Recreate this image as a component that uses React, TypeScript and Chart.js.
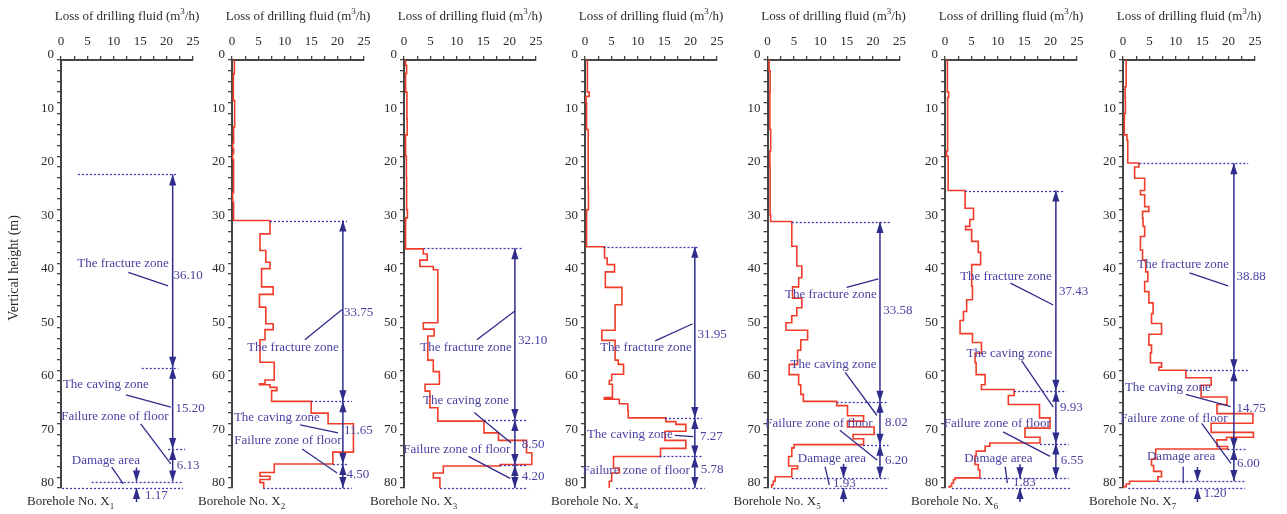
import React, { useEffect, useRef } from 'react';
import { Chart, registerables } from 'chart.js';

Chart.register(...registerables);

// ---------------- data ----------------
const LOSS_TICKS = [0, 5, 10, 15, 20, 25];
const DEPTH_TICKS = [0, 10, 20, 30, 40, 50, 60, 70, 80];
const LOSS_MAX = 25;
const DEPTH_MAX = 80;
const ZONE_NAMES = ['The fracture zone', 'The caving zone', 'Failure zone of floor', 'Damage area'];
const BOREHOLES = ['1', '2', '3', '4', '5', '6', '7'];

const X1_depth: number[] = [];
const X1_loss: number[] = [];

const X2_depth = [0, 2.6, 7.6, 12.5, 15.6, 16.5, 17.5, 18.6, 24.8, 26.6, 30.0, 32.5, 35.6, 37.8, 39.0, 42.4, 43.8, 46.2, 49.3, 50.4, 52.3, 56.5, 59.8, 60.5, 60.7, 61.2, 61.8, 63.8, 66.0, 68.0, 73.3, 75.5, 77.1, 77.8, 78.4, 79.0];
const X2_loss = [0.45, 0.25, 0.5, 0.3, 0.12, 0.3, 0.12, 0.3, 0.12, 0.3, 7.2, 5.3, 6.4, 7.2, 5.6, 7.8, 5.2, 6.4, 7.8, 6.25, 5.3, 8.0, 6.25, 5.2, 7.2, 8.5, 7.5, 15.0, 18.2, 23.0, 19.1, 8.0, 5.3, 7.2, 5.3, 6.0];

const X3_depth = [0, 1, 2.5, 6, 11, 14, 18, 22, 28, 29.5, 35.3, 36.25, 37.4, 38.6, 39.2, 49.1, 50.3, 51.6, 56.1, 58.25, 60.6, 61.9, 65.0, 67.5, 69.7, 71.1, 73.4, 75.6, 75.9, 77.2, 78.1];
const X3_loss = [0.3, 0.5, 0.3, 0.55, 0.6, 0.3, 0.45, 0.5, 0.65, 0.3, 3.66, 4.4, 3.0, 5.55, 6.4, 3.66, 5.7, 4.5, 5.55, 6.7, 4.0, 4.9, 6.4, 15.15, 17.9, 23.2, 24.2, 18.2, 7.45, 5.55, 6.8];

const X4_depth = [0, 6, 6.8, 8, 13, 24, 28, 34.9, 37, 38.25, 39.6, 42.5, 45.75, 50.5, 52.4, 56.1, 56.9, 58.75, 59.9, 60.6, 63.1, 63.4, 64.25, 65.5, 66.9, 67.6, 68.1, 69.4, 71.1, 72.6, 74.1, 76.25, 77.2, 78.75];
const X4_loss = [0.45, 0.8, 0.2, 0.3, 0.6, 0.65, 0.3, 3.7, 4.2, 5.6, 3.85, 7.0, 5.7, 3.2, 5.7, 6.3, 7.3, 5.05, 4.6, 5.2, 3.66, 6.5, 8.1, 8.2, 15.3, 17.2, 19.1, 15.15, 19.1, 14.3, 5.4, 6.5, 5.05, 4.6];

const X5_depth = [0, 2, 6, 13, 17, 20, 29, 30.2, 34.8, 38.5, 40.7, 42.4, 44.5, 46.3, 47.8, 49.1, 50.5, 52.3, 54.25, 56.9, 58.8, 60.7, 62.5, 63.8, 64.6, 66.5, 67.5, 68.6, 70.0, 70.8, 71.9, 72.5, 74.1, 75.9, 76.4, 77.9, 78.75, 79.4];
const X5_loss = [0.3, 0.5, 0.45, 0.6, 0.45, 0.5, 0.6, 4.6, 5.55, 6.5, 5.9, 4.75, 6.5, 5.55, 4.6, 3.5, 7.6, 6.3, 5.7, 4.1, 5.9, 6.3, 6.8, 13.1, 15.15, 18.2, 15.15, 20.2, 16.2, 18.2, 5.05, 4.6, 4.0, 5.7, 4.6, 1.45, 1.1, 0.8];

const X6_depth = [0, 6, 7, 17, 18, 24.4, 27.7, 29.8, 31.1, 31.7, 33.9, 35.95, 38.25, 42.3, 44.8, 47.0, 48.7, 51.15, 52.8, 54.8, 56.6, 58.8, 60.7, 61.6, 62.7, 64.4, 66.9, 68.8, 70.5, 71.6, 72.2, 73.1, 74.0, 75.6, 76.6, 78.1, 78.45, 79.1, 79.7];
const X6_loss = [0.45, 0.7, 0.5, 0.3, 0.6, 3.8, 5.4, 4.7, 3.9, 5.05, 6.3, 6.75, 5.05, 5.2, 4.1, 3.5, 2.85, 5.2, 6.9, 5.7, 5.9, 7.6, 6.9, 13.1, 12.0, 17.9, 19.9, 15.15, 18.0, 8.5, 7.6, 5.9, 5.7, 6.3, 6.6, 1.9, 1.6, 1.26, 0.8];

const X7_depth = [0, 5, 7, 10, 14, 15, 19.25, 20, 22.1, 24.4, 25.2, 27.4, 28.3, 29.6, 31.1, 33, 35.5, 37.4, 39.6, 41.4, 43.3, 45.4, 47.4, 49.25, 51.25, 53.3, 54.75, 56.6, 57.4, 58, 59.4, 60.8, 63, 64.4, 66.1, 67.9, 69.6, 70.5, 71, 72.25, 72.7, 74.6, 75.8, 76.9, 77.9, 78.75, 79.25, 79.75];
const X7_loss = [0.6, 0.4, 0.45, 0.25, 0.75, 0.9, 3.0, 2.2, 4.1, 3.3, 4.1, 4.9, 3.7, 3.8, 4.1, 3.3, 3.7, 4.3, 4.7, 4.1, 4.9, 5.7, 5.4, 7.3, 4.9, 5.4, 5.2, 7.3, 6.8, 11.9, 16.7, 14.8, 19.7, 17.8, 24.6, 16.7, 24.7, 19.6, 17.8, 19.8, 6.2, 5.4, 5.8, 7.3, 6.6, 1.26, 0.6, 0.1];

// zone boundaries (vertical height, m) and zone thickness labels
const X1_bounds = [21.4, 57.5, 72.7, 78.8, 80];
const X1_thick = ['36.10', '15.20', '6.13', '1.17'];
const X2_bounds = [30, 63.8, 75.5, 80];
const X2_thick = ['33.75', '11.65', '4.50'];
const X3_bounds = [35.2, 67.3, 75.7, 80];
const X3_thick = ['32.10', '8.50', '4.20'];
const X4_bounds = [34.9, 66.9, 74.1, 80];
const X4_thick = ['31.95', '7.27', '5.78'];
const X5_bounds = [30.3, 63.9, 71.9, 78.1, 80];
const X5_thick = ['33.58', '8.02', '6.20', '1.93'];
const X6_bounds = [24.4, 61.8, 71.7, 78.2, 80];
const X6_thick = ['37.43', '9.93', '6.55', '1.83'];
const X7_bounds = [19.3, 58.0, 72.7, 78.7, 80];
const X7_thick = ['38.88', '14.75', '6.00', '1.20'];

// ---------------- layout (in data units of each panel) ----------------
type Panel = {
  axisX: number;
  depth: number[];
  loss: number[];
  bounds: number[];
  thick: string[];
  arrowV: number;
  damageV?: number;
  dotted: number[][];
  names: number[][];
  leaders: (number[] | null)[];
  thickPos: number[][];
  yTitle?: boolean;
};

const PANELS: Panel[] = [
  {
    axisX: 61, depth: X1_depth, loss: X1_loss, bounds: X1_bounds, thick: X1_thick,
    arrowV: 21.15, damageV: 14.3, yTitle: true,
    dotted: [[3.2, 22.0], [15.3, 22.2], [20.3, 23.5], [5.8, 23.1], [0.2, 23.1]],
    names: [[11.75, 38.0], [8.5, 60.7], [10.2, 66.6], [8.5, 74.8]],
    leaders: [[12.75, 39.7, 20.3, 42.2], [12.3, 62.6, 20.8, 64.9], [15.1, 68.0, 20.8, 75.5], [9.6, 76.1, 11.8, 79.25]],
    thickPos: [[21.3, 40.3], [21.7, 65.2], [21.9, 75.8], [15.9, 81.4]],
  },
  {
    axisX: 232, depth: X2_depth, loss: X2_loss, bounds: X2_bounds, thick: X2_thick,
    arrowV: 21.0,
    dotted: [[7.2, 21.8], [15.0, 22.7], [19.1, 21.8], [5.9, 22.7]],
    names: [[11.55, 53.8], [8.5, 66.9], [10.6, 71.2]],
    leaders: [[20.8, 46.7, 13.8, 52.3], [12.9, 68.2, 20.1, 69.7], [13.3, 72.7, 19.9, 77.2]],
    thickPos: [[21.2, 47.3], [21.2, 69.3], [21.7, 77.4]],
  },
  {
    axisX: 404, depth: X3_depth, loss: X3_loss, bounds: X3_bounds, thick: X3_thick,
    arrowV: 21.0,
    dotted: [[3.7, 22.6], [15.15, 23.5], [18.2, 23.5], [6.8, 23.5]],
    names: [[11.75, 53.7], [11.75, 63.7], [10.0, 72.9]],
    leaders: [[21.0, 46.9, 13.8, 52.3], [13.3, 65.9, 20.3, 71.6], [12.2, 74.1, 20.1, 78.2]],
    thickPos: [[21.6, 52.5], [22.3, 71.8], [22.3, 77.9]],
  },
  {
    axisX: 585, depth: X4_depth, loss: X4_loss, bounds: X4_bounds, thick: X4_thick,
    arrowV: 20.8,
    dotted: [[3.5, 21.5], [15.15, 22.1], [14.1, 22.1], [5.9, 22.7]],
    names: [[11.55, 53.8], [8.5, 70.1], [9.7, 76.8]],
    leaders: [[20.4, 49.3, 13.3, 52.5], [17.0, 70.15, 20.5, 70.4], null],
    thickPos: [[21.3, 51.4], [21.8, 70.3], [21.9, 76.6]],
  },
  {
    axisX: 767.5, depth: X5_depth, loss: X5_loss, bounds: X5_bounds, thick: X5_thick,
    arrowV: 21.3, damageV: 14.4,
    dotted: [[4.6, 23.2], [13.1, 22.9], [18.1, 22.9], [4.6, 22.9], [1.1, 22.9]],
    names: [[12.0, 43.9], [12.5, 56.9], [9.75, 68.0], [12.2, 74.45]],
    leaders: [[21.0, 40.9, 15.0, 42.5], [14.7, 58.4, 20.7, 66.4], [13.7, 69.2, 20.8, 74.8], [10.9, 76.0, 11.7, 79.4]],
    thickPos: [[21.9, 46.9], [22.25, 67.8], [22.25, 74.8], [12.4, 79.25]],
  },
  {
    axisX: 945, depth: X6_depth, loss: X6_loss, bounds: X6_bounds, thick: X6_thick,
    arrowV: 21.0, damageV: 14.2,
    dotted: [[3.8, 22.4], [13.1, 23.0], [18.0, 23.4], [6.6, 23.4], [1.3, 23.7]],
    names: [[11.55, 40.4], [12.2, 54.8], [9.9, 67.9], [10.1, 74.45]],
    leaders: [[12.4, 41.7, 20.5, 45.8], [14.5, 56.2, 20.5, 64.9], [11.0, 69.5, 19.9, 74.1], [11.4, 76.0, 11.8, 79.1]],
    thickPos: [[21.6, 43.3], [21.8, 65.0], [21.9, 74.8], [12.9, 79.0]],
  },
  {
    axisX: 1123, depth: X7_depth, loss: X7_loss, bounds: X7_bounds, thick: X7_thick,
    arrowV: 21.0, damageV: 14.1,
    dotted: [[3.1, 23.7], [11.9, 23.7], [19.8, 23.4], [6.7, 23.4], [1.0, 23.1]],
    names: [[11.4, 38.3], [8.5, 61.2], [9.65, 67.0], [11.0, 74.1]],
    leaders: [[12.6, 39.8, 19.9, 42.2], [11.9, 62.5, 20.4, 64.8], [14.9, 67.9, 20.45, 75.4], [11.4, 76.0, 11.4, 79.1]],
    thickPos: [[21.5, 40.4], [21.5, 65.1], [21.6, 75.5], [15.3, 81.0]],
  },
];

const W = 1287;
const H = 514;
const PLOT_W = 132;
const PLOT_TOP = 60;
const PLOT_BOTTOM = 488;
const Y_SCALE_W = 40;

const FONT = '"Liberation Serif", "Times New Roman", serif';
const RED = '#f03c28';
const ARROW = '#2f2c8c';
const DOT = '#3a38b0';
const LABEL = '#4a43a3';
const AXIS = '#444444';
const TEXT = '#2a2a2a';

function buildPoints(depth: number[], loss: number[]) {
  const pts = depth.map((d, i) => ({ x: loss[i], y: d }));
  if (pts.length) pts.push({ x: loss[loss.length - 1], y: DEPTH_MAX });
  return pts;
}

function makePlugin(p: Panel, idx: number) {
  return {
    id: 'zones' + idx,
    afterDraw(chart: any) {
      const ctx: CanvasRenderingContext2D = chart.ctx;
      const xs = chart.scales.x;
      const ys = chart.scales.y;
      const X = (v: number) => xs.getPixelForValue(v);
      const Y = (h: number) => ys.getPixelForValue(h);
      const line = (x1: number, y1: number, x2: number, y2: number) => {
        ctx.beginPath();
        ctx.moveTo(x1, y1);
        ctx.lineTo(x2, y2);
        ctx.stroke();
      };
      const head = (x: number, tip: number, dir: number) => {
        const L = 11;
        const w = 3.6;
        ctx.beginPath();
        ctx.moveTo(x, tip);
        ctx.lineTo(x - w, tip - dir * L);
        ctx.lineTo(x + w, tip - dir * L);
        ctx.closePath();
        ctx.fill();
      };
      ctx.save();
      // dotted boundary lines
      ctx.strokeStyle = DOT;
      ctx.lineWidth = 1.3;
      ctx.setLineDash([2, 2]);
      p.bounds.forEach((b, i) => {
        const d = p.dotted[i];
        if (d) line(X(d[0]), Math.round(Y(b)) + 0.5, X(d[1]), Math.round(Y(b)) + 0.5);
      });
      ctx.setLineDash([]);

      // main double arrows
      ctx.strokeStyle = ARROW;
      ctx.fillStyle = ARROW;
      ctx.lineWidth = 1.5;
      const ax = X(p.arrowV);
      const nMain = Math.min(3, p.bounds.length - 1);
      line(ax, Y(p.bounds[0]), ax, Y(p.bounds[nMain]));
      for (let i = 0; i < nMain; i++) {
        head(ax, Y(p.bounds[i]), -1);
        head(ax, Y(p.bounds[i + 1]), 1);
      }
      // damage area arrows
      if (p.bounds.length > 4 && p.damageV !== undefined) {
        const dx = X(p.damageV);
        const yt = Y(p.bounds[3]);
        const yb = Y(p.bounds[4]);
        line(dx, yt - 14, dx, yt);
        head(dx, yt, 1);
        line(dx, yb + 14, dx, yb);
        head(dx, yb, -1);
      }
      // leader lines
      ctx.lineWidth = 1.3;
      p.leaders.forEach((l) => {
        if (l) line(X(l[0]), Y(l[1]), X(l[2]), Y(l[3]));
      });
      // zone names
      ctx.font = '13px ' + FONT;
      ctx.fillStyle = LABEL;
      ctx.textBaseline = 'middle';
      ctx.textAlign = 'center';
      p.names.forEach((n, i) => {
        ctx.fillText(ZONE_NAMES[i], X(n[0]), Y(n[1]));
      });
      // thickness values
      ctx.textAlign = 'left';
      p.thickPos.forEach((t, i) => {
        ctx.fillText(p.thick[i], X(t[0]), Y(t[1]));
      });

      // axis title on top
      ctx.fillStyle = TEXT;
      const cx = (chart.chartArea.left + chart.chartArea.right) / 2;
      const partA = 'Loss of drilling fluid (m';
      const partB = '/h)';
      ctx.font = '13px ' + FONT;
      const wA = ctx.measureText(partA).width;
      const wB = ctx.measureText(partB).width;
      ctx.font = '9px ' + FONT;
      const wS = ctx.measureText('3').width;
      let sx = cx - (wA + wS + wB) / 2;
      const ty = 17;
      ctx.textAlign = 'left';
      ctx.textBaseline = 'middle';
      ctx.font = '13px ' + FONT;
      ctx.fillText(partA, sx, ty);
      sx += wA;
      ctx.font = '9px ' + FONT;
      ctx.fillText('3', sx, ty - 5);
      sx += wS;
      ctx.font = '13px ' + FONT;
      ctx.fillText(partB, sx, ty);

      // borehole label
      const bx = chart.chartArea.left - 34;
      const by = 502;
      const bt = 'Borehole No. X';
      ctx.font = '13px ' + FONT;
      ctx.fillText(bt, bx, by);
      const wb = ctx.measureText(bt).width;
      ctx.font = '9px ' + FONT;
      ctx.fillText(BOREHOLES[idx], bx + wb, by + 5);

      // y axis title
      if (p.yTitle) {
        ctx.save();
        ctx.translate(14, 268);
        ctx.rotate(-Math.PI / 2);
        ctx.font = '14px ' + FONT;
        ctx.textAlign = 'center';
        ctx.textBaseline = 'middle';
        ctx.fillText('Vertical height (m)', 0, 0);
        ctx.restore();
      }
      ctx.restore();
    },
  };
}

function createChart(canvas: HTMLCanvasElement, p: Panel, idx: number) {
  return new Chart(canvas, {
    type: 'line',
    data: {
      datasets: [
        {
          data: buildPoints(p.depth, p.loss),
          borderColor: RED,
          borderWidth: 1.6,
          pointRadius: 0,
          stepped: 'after',
          fill: false,
          tension: 0,
        },
      ],
    },
    options: {
      responsive: false,
      maintainAspectRatio: false,
      animation: false,
      events: [],
      layout: {
        padding: {
          left: p.axisX - Y_SCALE_W,
          right: W - p.axisX - PLOT_W,
          top: 0,
          bottom: H - PLOT_BOTTOM,
        },
      },
      plugins: {
        legend: { display: false },
        tooltip: { enabled: false },
        title: { display: false },
      },
      scales: {
        x: {
          type: 'linear',
          position: 'top',
          min: 0,
          max: LOSS_MAX,
          afterFit: (s: any) => {
            s.height = PLOT_TOP;
          },
          border: { display: true, color: AXIS, width: 2 },
          grid: { display: true, drawOnChartArea: false, drawTicks: true, tickLength: 4, color: AXIS, lineWidth: 1.3 },
          ticks: {
            stepSize: 2.5,
            autoSkip: false,
            maxRotation: 0,
            padding: 7,
            color: TEXT,
            font: { family: FONT, size: 13 },
            callback: (v: any) => (LOSS_TICKS.includes(Number(v)) ? String(v) : ''),
          },
        },
        y: {
          type: 'linear',
          position: 'left',
          reverse: true,
          min: 0,
          max: DEPTH_MAX,
          afterFit: (s: any) => {
            s.width = Y_SCALE_W;
          },
          border: { display: true, color: AXIS, width: 2 },
          grid: { display: true, drawOnChartArea: false, drawTicks: true, tickLength: 4, color: AXIS, lineWidth: 1.3 },
          ticks: {
            stepSize: 2,
            autoSkip: false,
            padding: 3,
            labelOffset: -5,
            color: TEXT,
            font: { family: FONT, size: 13 },
            callback: (v: any) => (DEPTH_TICKS.includes(Number(v)) ? String(v) : ''),
          },
        },
      },
    },
    plugins: [makePlugin(p, idx)],
  } as any);
}

export default function App() {
  const refs = useRef<(HTMLCanvasElement | null)[]>([]);
  useEffect(() => {
    const charts = PANELS.map((p, i) => createChart(refs.current[i] as HTMLCanvasElement, p, i));
    return () => charts.forEach((c) => c.destroy());
  }, []);
  return (
    <div style={{ position: 'absolute', left: 0, top: 0, width: W, height: H, background: '#ffffff', overflow: 'hidden' }}>
      {PANELS.map((_, i) => (
        <canvas
          key={i}
          ref={(el) => {
            refs.current[i] = el;
          }}
          width={W}
          height={H}
          style={{ position: 'absolute', left: 0, top: 0, width: W, height: H }}
        />
      ))}
    </div>
  );
}
